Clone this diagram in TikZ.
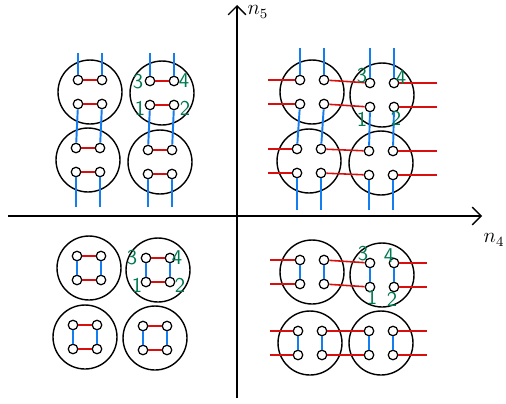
\documentclass[tikz,border=0pt]{standalone}
\usetikzlibrary{arrows.meta}
\definecolor{wireblue}{RGB}{20,125,240}
\definecolor{wirered}{RGB}{215,15,15}
\definecolor{pingreen}{RGB}{0,120,80}

\begin{document}
\begin{tikzpicture}[x=0.02cm, y=-0.02cm,
    plug/.style={draw, circle, line width=0.8pt, minimum size=1.28cm, inner sep=0pt},
    pin/.style={draw, circle, line width=0.7pt, minimum size=0.19cm, inner sep=0pt},
    wireR/.style={wirered, line width=0.9pt},
    wireB/.style={wireblue, line width=1.1pt},
    pinlab/.style={text=pingreen, font=\large\sffamily, inner sep=0pt},
    axis/.style={line width=0.8pt, -{Straight Barb[length=5pt, width=10pt]}},
]
\useasboundingbox (0,0) rectangle (506,403);

% Axes
\coordinate (ybot) at (237,398);
\coordinate (ytop) at (237,5);
\coordinate (xleft) at (8,216);
\coordinate (xright) at (482,216);
\draw[axis] (ybot) -- (ytop);
\draw[axis] (xleft) -- (xright);
\node[font=\large] (n5) at (258,12) {$n_5$};
\node[font=\large] (n4) at (494,240) {$n_4$};

% Plugs with four pins each: 3 4 on top, 1 2 below
\foreach \c/\x/\y in {tla/90/92, tlb/162/93, tlc/88/160, tld/160/162,
                      tra/312/92, trb/382/95, trc/309/161, trd/381/163,
                      bla/89/268, blb/158/270, blc/85/337, bld/155/338,
                      bra/312/272, brb/382/275, brc/310/343, brd/381/343} {
  \node[plug] (\c) at (\x,\y) {};
  \node[pin] (\c-3) at (\x-12,\y-12) {};
  \node[pin] (\c-4) at (\x+12,\y-12) {};
  \node[pin] (\c-1) at (\x-12,\y+12) {};
  \node[pin] (\c-2) at (\x+12,\y+12) {};
}

% Free wire ends
\coordinate (tltop) at (0,53);
\coordinate (tlbot) at (0,207);
\coordinate (trtop) at (0,48);
\coordinate (trbot) at (0,210);
\coordinate (trleft) at (268,0);
\coordinate (trright) at (437,0);
\coordinate (brleft) at (270,0);
\coordinate (brright) at (427,0);

% Top left: short red, long blue
\foreach \c in {tla,tlb,tlc,tld} {
  \draw[wireR] (\c-3) -- (\c-4);
  \draw[wireR] (\c-1) -- (\c-2);
}
\foreach \u/\l in {tla/tlc, tlb/tld} {
  \foreach \p/\q in {3/1, 4/2} {
    \draw[wireB] (\u-\p |- tltop) -- (\u-\p);
    \draw[wireB] (\u-\q) -- (\l-\p);
    \draw[wireB] (\l-\q) -- (\l-\q |- tlbot);
  }
}

% Top right: long red, long blue
\foreach \u/\l in {tra/trc, trb/trd} {
  \foreach \p/\q in {3/1, 4/2} {
    \draw[wireB] (\u-\p |- trtop) -- (\u-\p);
    \draw[wireB] (\u-\q) -- (\l-\p);
    \draw[wireB] (\l-\q) -- (\l-\q |- trbot);
  }
}
\foreach \l/\r in {tra/trb, trc/trd} {
  \foreach \p/\q in {3/4, 1/2} {
    \draw[wireR] (\l-\p -| trleft) -- (\l-\p);
    \draw[wireR] (\l-\q) -- (\r-\p);
    \draw[wireR] (\r-\q) -- (\r-\q -| trright);
  }
}

% Bottom left: short red, short blue
\foreach \c in {bla,blb,blc,bld} {
  \draw[wireR] (\c-3) -- (\c-4);
  \draw[wireR] (\c-1) -- (\c-2);
  \draw[wireB] (\c-3) -- (\c-1);
  \draw[wireB] (\c-4) -- (\c-2);
}

% Bottom right: long red, short blue
\foreach \c in {bra,brb,brc,brd} {
  \draw[wireB] (\c-3) -- (\c-1);
  \draw[wireB] (\c-4) -- (\c-2);
}
\foreach \l/\r in {bra/brb, brc/brd} {
  \foreach \p/\q in {3/4, 1/2} {
    \draw[wireR] (\l-\p -| brleft) -- (\l-\p);
    \draw[wireR] (\l-\q) -- (\r-\p);
    \draw[wireR] (\r-\q) -- (\r-\q -| brright);
  }
}

% Pin numbers
\node[pinlab] (tl3) at (138,82) {3};
\node[pinlab] (tl4) at (184,81) {4};
\node[pinlab] (tl1) at (140,108) {1};
\node[pinlab] (tl2) at (185,108) {2};
\node[pinlab] (tr3) at (362,76) {3};
\node[pinlab] (tr4) at (401,78) {4};
\node[pinlab] (tr1) at (362,119) {1};
\node[pinlab] (tr2) at (396,118) {2};
\node[pinlab] (bl3) at (132,258) {3};
\node[pinlab] (bl4) at (177,258) {4};
\node[pinlab] (bl1) at (137,285) {1};
\node[pinlab] (bl2) at (180,285) {2};
\node[pinlab] (br3) at (363,254) {3};
\node[pinlab] (br4) at (389,256) {4};
\node[pinlab] (br1) at (372,297) {1};
\node[pinlab] (br2) at (392,299) {2};
\end{tikzpicture}
\end{document}
